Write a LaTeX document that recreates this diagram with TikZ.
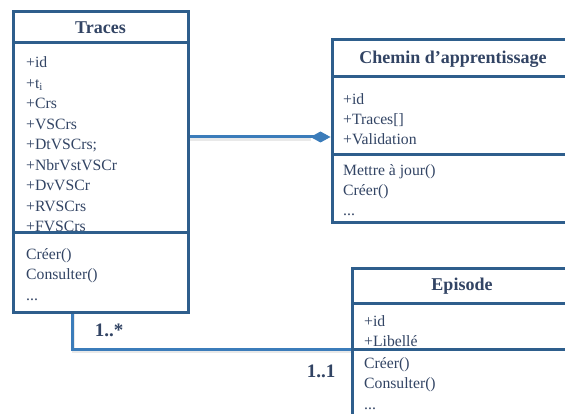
\documentclass[tikz,border=0pt]{standalone}
\usepackage{fontspec}
\setmainfont{Liberation Serif}
\usetikzlibrary{arrows.meta,calc}
\definecolor{boxc}{RGB}{46,94,140}
\definecolor{linkc}{RGB}{59,124,186}
\definecolor{txtc}{RGB}{50,68,100}
\newcommand{\tdots}{.\kern0pt.\kern0pt.}
\tikzset{
  umlbox/.style={draw=boxc, line width=3pt, fill=white, rectangle, inner sep=0pt, outer sep=0pt},
  divider/.style={draw=boxc, line width=3pt},
  titletxt/.style={text=txtc, font=\fontsize{18}{20}\selectfont\bfseries, inner sep=0pt},
  linetxt/.style={text=txtc, font=\fontsize{15.7}{18}\selectfont, inner sep=0pt, anchor=base west},
  mult/.style={text=txtc, font=\fontsize{19}{21}\selectfont\bfseries, inner sep=0pt},
  link/.style={draw=linkc, line width=3pt},
  linkshadow/.style={draw=black!25, line width=2.5pt, opacity=0.35},
}
\begin{document}
\begin{tikzpicture}[x=1pt,y=-1pt]
\useasboundingbox (0,0) rectangle (565,414);
\clip (0,0) rectangle (565,414);
% boxes
\node[umlbox, minimum width=175pt, minimum height=300pt, anchor=north west] (traces) at (13,12) {};
\node[umlbox, minimum width=242pt, minimum height=183pt, anchor=north west] (chemin) at (332,40) {};
\node[umlbox, minimum width=220pt, minimum height=170pt, anchor=north west] (episode) at (352,268) {};
% titles
\node[titletxt] (tracesT) at (100.5,28) {Traces};
\node[titletxt] (cheminT) at (453,59) {Chemin d’apprentissage};
\node[titletxt] (episodeT) at (462,286) {Episode};
% Traces attributes
\foreach \t [count=\i] in {+id,+t\textsubscript{i},+Crs,+VSCrs,+DtVSCrs;,+NbrVstVSCr,+DvVSCr,+RVSCrs,+FVSCrs}
  \node[linetxt] (ta\i) at (26,{68+20.5*(\i-1)}) {\t};
\foreach \t [count=\i] in {Créer(),Consulter(),\tdots}
  \node[linetxt] (tm\i) at (26,{259+20.5*(\i-1)}) {\t};
% Chemin
\foreach \t [count=\i] in {+id,+Traces[],+Validation}
  \node[linetxt] (ca\i) at (343,{105+20*(\i-1)}) {\t};
\foreach \t [count=\i] in {Mettre à jour(),Créer(),\tdots}
  \node[linetxt] (cm\i) at (343,{176+20*(\i-1)}) {\t};
% Episode
\foreach \t [count=\i] in {+id,+Libellé}
  \node[linetxt] (ea\i) at (364,{326+20*(\i-1)}) {\t};
\foreach \t [count=\i] in {Créer(),Consulter(),\tdots}
  \node[linetxt] (em\i) at (364,{368+20.5*(\i-1)}) {\t};
% dividers
\draw[divider] ($(traces.north west)+(0,31)$) -- ($(traces.north east)+(0,31)$);
\draw[divider] ($(traces.north west)+(0,221)$) -- ($(traces.north east)+(0,221)$);
\draw[divider] ($(chemin.north west)+(0,37)$) -- ($(chemin.north east)+(0,37)$);
\draw[divider] ($(chemin.north west)+(0,115)$) -- ($(chemin.north east)+(0,115)$);
\draw[divider] ($(episode.north west)+(0,35)$) -- ($(episode.north east)+(0,35)$);
\draw[divider] ($(episode.north west)+(0,81)$) -- ($(episode.north east)+(0,81)$);
% connector anchors
\coordinate (c1s) at ($(traces.north east)+(1.5,125)$);
\coordinate (c1e) at ($(chemin.north west)+(-1.5,97)$);
\coordinate (c2s) at ($(traces.south west)+(59,1.5)$);
\coordinate (c2e) at ($(episode.north west)+(-1.5,81)$);
% shadows
\draw[linkshadow] ($(c1s)+(0,2.5)$) -- ($(c1e)+(-20,2.5)$);
\draw[linkshadow] ($(c2s)+(1.5,0)$) |- ($(c2e)+(0,2.5)$);
% connectors
\draw[link, -{Diamond[length=20pt,width=11pt,fill=linkc]}] (c1s) -- (c1e);
\draw[link] (c2s) |- (c2e);
% multiplicities
\node[mult] (m1) at (109,330) {1..*};
\node[mult] (m2) at (321,371) {1..1};
\end{tikzpicture}
\end{document}
